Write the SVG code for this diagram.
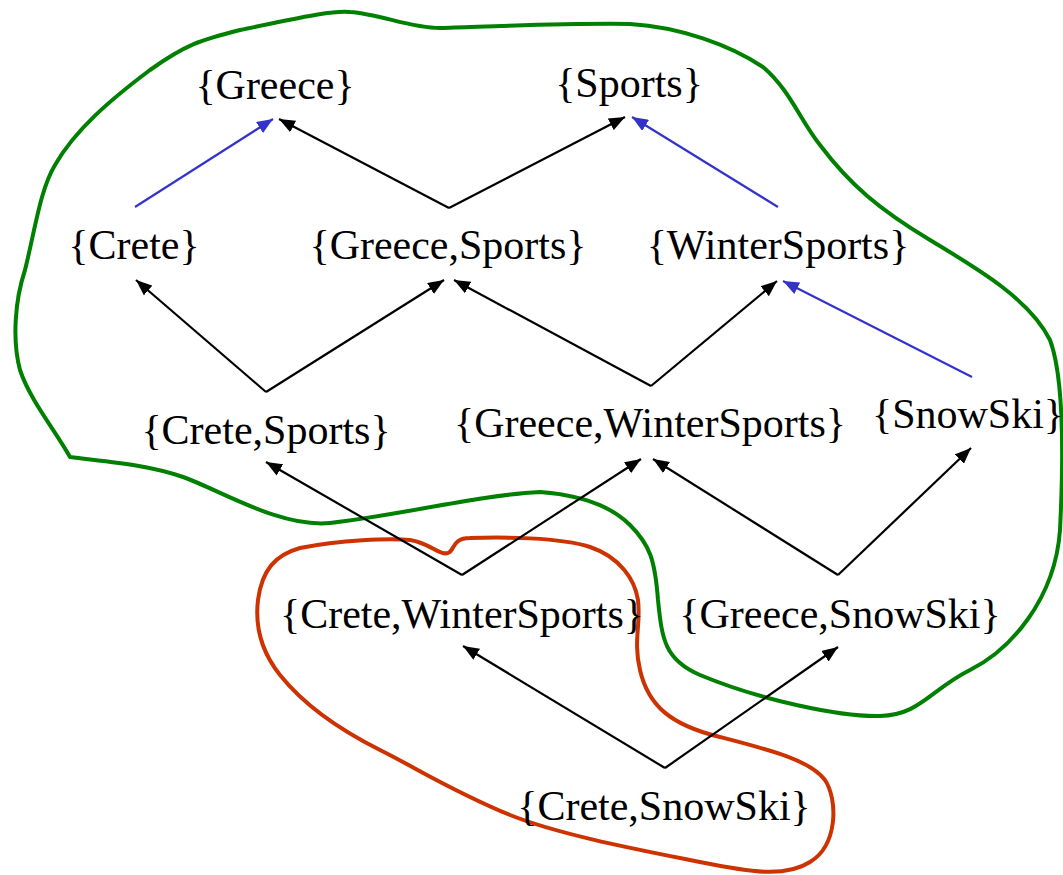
<svg xmlns="http://www.w3.org/2000/svg" width="1063" height="875" viewBox="0 0 1063 875">
  <style>
    .lbl { font-family: 'Liberation Serif', 'Times New Roman', Times, serif; font-size: 42px; fill: #000; text-anchor: middle; }
    .e { fill: none; stroke: #000; stroke-width: 2.2; marker-end: url(#ahBlack); }
    .eb { fill: none; stroke: #3333cc; stroke-width: 2.2; marker-end: url(#ahBlue); }
    .region { fill: none; stroke-width: 4; stroke-linejoin: round; }
  </style>
  <defs>
    <marker id="ahBlack" markerUnits="userSpaceOnUse" markerWidth="16" markerHeight="13" refX="16" refY="6.5" orient="auto">
      <path d="M0,0 L16,6.5 L0,13 z" fill="#000"/>
    </marker>
    <marker id="ahBlue" markerUnits="userSpaceOnUse" markerWidth="16" markerHeight="13" refX="16" refY="6.5" orient="auto">
      <path d="M0,0 L16,6.5 L0,13 z" fill="#3333cc"/>
    </marker>
  </defs>

  <rect width="1063" height="875" fill="#fff"/>

  <!-- region outlines -->
  <g id="regions">
    <path class="region" stroke="#008000" d="M70,457 C55,430 30,400 20,370 C12,340 15,300 25,270 C35,230 40,190 55,165 C75,130 110,100 150,70 C185,45 200,40 240,30 C290,20 330,10 350,12 C380,14 410,28 440,28 C480,27 560,23 630,24 C680,27 730,45 763,67 C790,90 800,120 820,145 C850,185 880,210 930,240 C980,270 1030,300 1050,340 C1065,380 1063,470 1060,530 C1055,600 1010,650 970,670 C930,690 920,715 880,716 C840,717 760,700 700,675 C665,660 662,640 658,600 C655,560 650,545 630,525 C610,505 580,495 540,492 C480,495 400,515 330,523 C280,528 220,490 183,477 C150,465 110,462 70,457 Z"/>
    <path class="region" stroke="#cc3300" d="M300,548 C340,540 390,538 410,540 C430,543 440,556 448,553 C455,550 452,538 470,538 C500,537 560,537 590,547 C620,557 635,580 638,600 C641,625 633,640 640,670 C648,705 670,725 720,737 C770,750 810,760 825,780 C838,800 838,845 810,862 C785,878 750,872 700,862 C640,850 560,835 510,815 C450,790 420,770 380,750 C330,725 300,700 280,675 C260,650 255,625 258,600 C262,570 275,555 300,548 Z"/>
  </g>

  <!-- connectors -->
  <g id="connectors">
    <line class="eb" x1="135" y1="207" x2="273" y2="119"/>
    <line class="e" x1="449" y1="208" x2="279" y2="119"/>
    <line class="e" x1="449" y1="208" x2="625" y2="117"/>
    <line class="eb" x1="778" y1="207" x2="632" y2="117"/>

    <line class="e" x1="266" y1="392" x2="136" y2="280"/>
    <line class="e" x1="266" y1="392" x2="444" y2="280"/>
    <line class="e" x1="651" y1="386" x2="454" y2="280"/>
    <line class="e" x1="651" y1="386" x2="777" y2="281"/>
    <line class="eb" x1="972" y1="377" x2="783" y2="281"/>

    <line class="e" x1="462" y1="575" x2="266" y2="462"/>
    <line class="e" x1="462" y1="575" x2="641" y2="459"/>
    <line class="e" x1="838" y1="575" x2="653" y2="459"/>
    <line class="e" x1="838" y1="575" x2="971" y2="448"/>

    <line class="e" x1="665" y1="768" x2="463" y2="646"/>
    <line class="e" x1="665" y1="768" x2="838" y2="647"/>
  </g>

  <!-- nodes -->
  <g id="n-greece"><text class="lbl" x="275" y="99">{Greece}</text></g>
  <g id="n-sports"><text class="lbl" x="629" y="97">{Sports}</text></g>
  <g id="n-crete"><text class="lbl" x="134" y="259">{Crete}</text></g>
  <g id="n-greece-sports"><text class="lbl" x="448" y="259">{Greece,Sports}</text></g>
  <g id="n-wintersports"><text class="lbl" x="778" y="259">{WinterSports}</text></g>
  <g id="n-crete-sports"><text class="lbl" x="266" y="444">{Crete,Sports}</text></g>
  <g id="n-greece-wintersports"><text class="lbl" x="650" y="437">{Greece,WinterSports}</text></g>
  <g id="n-snowski"><text class="lbl" x="968" y="428">{SnowSki}</text></g>
  <g id="n-crete-wintersports"><text class="lbl" x="462" y="628">{Crete,WinterSports}</text></g>
  <g id="n-greece-snowski"><text class="lbl" x="840" y="628">{Greece,SnowSki}</text></g>
  <g id="n-crete-snowski"><text class="lbl" x="664" y="820">{Crete,SnowSki}</text></g>
</svg>
